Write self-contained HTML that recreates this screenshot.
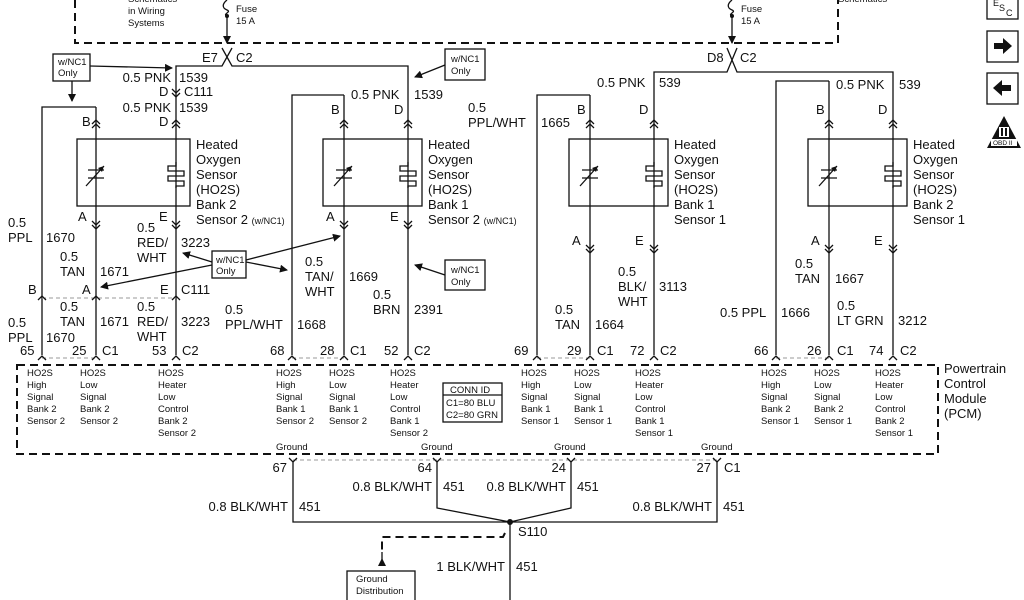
<!DOCTYPE html>
<html><head><meta charset="utf-8"><style>
html,body{margin:0;padding:0;background:#fff;}
svg{display:block;}
text{font-family:"Liberation Sans",Arial,sans-serif;fill:#111;}
.l{font-size:13px;}
.s{font-size:9.5px;}
.w{stroke:#111;stroke-width:1.3;fill:none;}
.d{stroke:#111;stroke-width:2;fill:none;stroke-dasharray:8,5;}
.g{stroke:#999;stroke-width:1;fill:none;stroke-dasharray:4,3;}
</style></head><body>
<svg width="1024" height="600" viewBox="0 0 1024 600" xmlns="http://www.w3.org/2000/svg">
<defs>
<g id="up"><path class="w" d="M-4,4 L0,0 L4,4 M-4,8 L0,4 L4,8"/></g>
<g id="dn"><path class="w" d="M-4,-4 L0,0 L4,-4 M-4,-8 L0,-4 L4,-8"/></g>
<g id="pin"><path class="w" d="M-4,4 L0,0 L4,4"/></g>
<g id="res"><path class="w" d="M-8,-4 H8 M-8,4 H8 M-10,12 L8,-8"/><path d="M8,-8 L2,-6 L6,-2 Z" fill="#111"/></g>
<g id="heat"><path class="w" d="M0,-12 V-8 H-8 V-3 H8 V2 H-8 V7 H8 V12 H0 V14" /></g>
<marker id="ah" markerWidth="8" markerHeight="8" refX="7" refY="4" orient="auto" markerUnits="userSpaceOnUse"><path d="M0,0 L8,4 L0,8 Z" fill="#111"/></marker>
</defs>

<!-- top dashed box -->
<path class="d" d="M75,0 V43 H838 V0"/>
<text class="s" x="128" y="2" font-size="10">Schematics</text>
<text class="s" x="128" y="14">in Wiring</text>
<text class="s" x="128" y="26">Systems</text>
<text class="s" x="838" y="2">Schematics</text>
<!-- fuses -->
<path class="w" d="M227,0 C222,4 222,8 227,10 C232,12 222,14 227,16 V43" marker-end="url(#ah)"/>
<circle cx="227" cy="16" r="2" fill="#111"/>
<text class="s" x="236" y="12">Fuse</text><text class="s" x="236" y="24">15 A</text>
<path class="w" d="M732,0 C727,4 727,8 732,10 C737,12 727,14 732,16 V43" marker-end="url(#ah)"/>
<circle cx="732" cy="16" r="2" fill="#111"/>
<text class="s" x="741" y="12">Fuse</text><text class="s" x="741" y="24">15 A</text>

<!-- E7 X C2 -->
<path class="w" d="M222,48 L232,66 H408 V295 M232,48 L222,66 H176 V355"/>
<text class="l" x="202" y="62">E7</text><text class="l" x="236" y="62">C2</text>
<!-- D8 X C2 -->
<path class="w" d="M727,48 L737,72 H893 V355 M737,48 L727,72 H654 V355"/>
<text class="l" x="707" y="62">D8</text><text class="l" x="740" y="62">C2</text>

<!-- Sensor 1: Bank2 Sensor2 -->
<rect x="77" y="139" width="113" height="67" class="w" fill="none"/>
<path class="w" d="M96,107 H42 V355 M96,107 V355"/>
<use href="#up" x="96" y="120"/><use href="#up" x="176" y="120"/>
<use href="#dn" x="96" y="229"/><use href="#dn" x="176" y="229"/>
<use href="#dn" x="176" y="97"/>
<use href="#res" x="96" y="174"/><use href="#heat" x="176" y="174"/>
<text class="l" x="196" y="149">Heated</text><text class="l" x="196" y="164">Oxygen</text><text class="l" x="196" y="179">Sensor</text><text class="l" x="196" y="194">(HO2S)</text><text class="l" x="196" y="209">Bank 2</text><text class="l" x="196" y="224">Sensor 2 <tspan font-size="9">(w/NC1)</tspan></text>
<text class="l" x="171" y="82" text-anchor="end">0.5 PNK</text><text class="l" x="179" y="82">1539</text>
<text class="l" x="159" y="96">D</text><text class="l" x="184" y="96">C111</text>
<text class="l" x="171" y="112" text-anchor="end">0.5 PNK</text><text class="l" x="179" y="112">1539</text>
<text class="l" x="159" y="126">D</text><text class="l" x="82" y="126">B</text>
<text class="l" x="78" y="221">A</text><text class="l" x="159" y="221">E</text>
<text class="l" x="8" y="227">0.5</text><text class="l" x="8" y="242">PPL</text><text class="l" x="46" y="242">1670</text>
<text class="l" x="60" y="261">0.5</text><text class="l" x="60" y="276">TAN</text><text class="l" x="100" y="276">1671</text>
<text class="l" x="137" y="232">0.5</text><text class="l" x="137" y="247">RED/</text><text class="l" x="137" y="262">WHT</text><text class="l" x="181" y="247">3223</text>
<!-- C111 -->
<path class="g" d="M42,298 H176"/>
<use href="#pin" x="42" y="296"/><use href="#pin" x="96" y="296"/><use href="#pin" x="176" y="296"/>
<text class="l" x="28" y="294">B</text><text class="l" x="82" y="294">A</text><text class="l" x="160" y="294">E</text><text class="l" x="181" y="294">C111</text>
<text class="l" x="60" y="311">0.5</text><text class="l" x="60" y="326">TAN</text><text class="l" x="100" y="326">1671</text>
<text class="l" x="8" y="327">0.5</text><text class="l" x="8" y="342">PPL</text><text class="l" x="46" y="342">1670</text>
<text class="l" x="137" y="311">0.5</text><text class="l" x="137" y="326">RED/</text><text class="l" x="137" y="341">WHT</text><text class="l" x="181" y="326">3223</text>

<!-- Sensor 2: Bank1 Sensor2 -->
<rect x="323" y="139" width="99" height="67" class="w" fill="none"/>
<path class="w" d="M344,95 H292 V355 M344,95 V355 M408,295 V355"/>
<use href="#up" x="344" y="120"/><use href="#up" x="408" y="120"/>
<use href="#dn" x="344" y="229"/><use href="#dn" x="408" y="229"/>
<use href="#res" x="344" y="174"/><use href="#heat" x="408" y="174"/>
<text class="l" x="428" y="149">Heated</text><text class="l" x="428" y="164">Oxygen</text><text class="l" x="428" y="179">Sensor</text><text class="l" x="428" y="194">(HO2S)</text><text class="l" x="428" y="209">Bank 1</text><text class="l" x="428" y="224">Sensor 2 <tspan font-size="9">(w/NC1)</tspan></text>
<text class="l" x="351" y="99">0.5 PNK</text><text class="l" x="414" y="99">1539</text>
<text class="l" x="331" y="114">B</text><text class="l" x="394" y="114">D</text>
<text class="l" x="326" y="221">A</text><text class="l" x="390" y="221">E</text>
<text class="l" x="305" y="266">0.5</text><text class="l" x="305" y="281">TAN/</text><text class="l" x="305" y="296">WHT</text><text class="l" x="349" y="281">1669</text>
<text class="l" x="373" y="299">0.5</text><text class="l" x="373" y="314">BRN</text><text class="l" x="414" y="314">2391</text>
<text class="l" x="225" y="314">0.5</text><text class="l" x="225" y="329">PPL/WHT</text><text class="l" x="297" y="329">1668</text>

<!-- Sensor 3: Bank1 Sensor1 -->
<rect x="569" y="139" width="99" height="67" class="w" fill="none"/>
<path class="w" d="M590,95 H537 V355 M590,95 V355"/>
<use href="#up" x="590" y="120"/><use href="#up" x="654" y="120"/>
<use href="#dn" x="590" y="253"/><use href="#dn" x="654" y="253"/>
<use href="#res" x="590" y="174"/><use href="#heat" x="654" y="174"/>
<text class="l" x="674" y="149">Heated</text><text class="l" x="674" y="164">Oxygen</text><text class="l" x="674" y="179">Sensor</text><text class="l" x="674" y="194">(HO2S)</text><text class="l" x="674" y="209">Bank 1</text><text class="l" x="674" y="224">Sensor 1</text>
<text class="l" x="597" y="87">0.5 PNK</text><text class="l" x="659" y="87">539</text>
<text class="l" x="468" y="112">0.5</text><text class="l" x="468" y="127">PPL/WHT</text><text class="l" x="541" y="127">1665</text>
<text class="l" x="577" y="114">B</text><text class="l" x="639" y="114">D</text>
<text class="l" x="572" y="245">A</text><text class="l" x="635" y="245">E</text>
<text class="l" x="618" y="276">0.5</text><text class="l" x="618" y="291">BLK/</text><text class="l" x="618" y="306">WHT</text><text class="l" x="659" y="291">3113</text>
<text class="l" x="555" y="314">0.5</text><text class="l" x="555" y="329">TAN</text><text class="l" x="595" y="329">1664</text>

<!-- Sensor 4: Bank2 Sensor1 -->
<rect x="808" y="139" width="99" height="67" class="w" fill="none"/>
<path class="w" d="M829,81 H776 V355 M829,81 V355"/>
<use href="#up" x="829" y="120"/><use href="#up" x="893" y="120"/>
<use href="#dn" x="829" y="253"/><use href="#dn" x="893" y="253"/>
<use href="#res" x="829" y="174"/><use href="#heat" x="893" y="174"/>
<text class="l" x="913" y="149">Heated</text><text class="l" x="913" y="164">Oxygen</text><text class="l" x="913" y="179">Sensor</text><text class="l" x="913" y="194">(HO2S)</text><text class="l" x="913" y="209">Bank 2</text><text class="l" x="913" y="224">Sensor 1</text>
<text class="l" x="836" y="89">0.5 PNK</text><text class="l" x="899" y="89">539</text>
<text class="l" x="816" y="114">B</text><text class="l" x="878" y="114">D</text>
<text class="l" x="811" y="245">A</text><text class="l" x="874" y="245">E</text>
<text class="l" x="795" y="268">0.5</text><text class="l" x="795" y="283">TAN</text><text class="l" x="835" y="283">1667</text>
<text class="l" x="837" y="310">0.5</text><text class="l" x="837" y="325">LT GRN</text><text class="l" x="898" y="325">3212</text>
<text class="l" x="720" y="317">0.5 PPL</text><text class="l" x="781" y="317">1666</text>

<!-- w/NC1 boxes -->
<g class="s" font-size="9.5">
<rect x="53" y="54" width="37" height="27" class="w" fill="#fff"/><text class="s" x="58" y="65">w/NC1</text><text class="s" x="58" y="76">Only</text>
<rect x="445" y="49" width="40" height="31" class="w" fill="#fff"/><text class="s" x="451" y="62">w/NC1</text><text class="s" x="451" y="74">Only</text>
<rect x="212" y="251" width="34" height="27" class="w" fill="#fff"/><text class="s" x="216" y="263">w/NC1</text><text class="s" x="216" y="274">Only</text>
<rect x="445" y="260" width="40" height="30" class="w" fill="#fff"/><text class="s" x="451" y="273">w/NC1</text><text class="s" x="451" y="285">Only</text>
</g>
<path class="w" d="M90,66 L172,68" marker-end="url(#ah)"/>
<path class="w" d="M72,81 V101" marker-end="url(#ah)"/>
<path class="w" d="M445,65 L415,77" marker-end="url(#ah)"/>
<path class="w" d="M212,262 L183,253" marker-end="url(#ah)"/>
<path class="w" d="M212,265 L101,287" marker-end="url(#ah)"/>
<path class="w" d="M246,260 L340,236" marker-end="url(#ah)"/>
<path class="w" d="M246,262 L287,270" marker-end="url(#ah)"/>
<path class="w" d="M445,275 L415,265" marker-end="url(#ah)"/>

<!-- pin row -->
<path class="g" d="M42,358 H96 M292,358 H344 M537,358 H590 M776,358 H829"/>
<g>
<use href="#pin" x="42" y="356"/><use href="#pin" x="96" y="356"/><use href="#pin" x="176" y="356"/>
<use href="#pin" x="292" y="356"/><use href="#pin" x="344" y="356"/><use href="#pin" x="408" y="356"/>
<use href="#pin" x="537" y="356"/><use href="#pin" x="590" y="356"/><use href="#pin" x="654" y="356"/>
<use href="#pin" x="776" y="356"/><use href="#pin" x="829" y="356"/><use href="#pin" x="893" y="356"/>
</g>
<text class="l" x="20" y="355">65</text><text class="l" x="72" y="355">25</text><text class="l" x="102" y="355">C1</text><text class="l" x="152" y="355">53</text><text class="l" x="182" y="355">C2</text>
<text class="l" x="270" y="355">68</text><text class="l" x="320" y="355">28</text><text class="l" x="350" y="355">C1</text><text class="l" x="384" y="355">52</text><text class="l" x="414" y="355">C2</text>
<text class="l" x="514" y="355">69</text><text class="l" x="567" y="355">29</text><text class="l" x="597" y="355">C1</text><text class="l" x="630" y="355">72</text><text class="l" x="660" y="355">C2</text>
<text class="l" x="754" y="355">66</text><text class="l" x="807" y="355">26</text><text class="l" x="837" y="355">C1</text><text class="l" x="869" y="355">74</text><text class="l" x="900" y="355">C2</text>

<!-- PCM box -->
<path class="d" d="M17,365 H938 V454 H17 Z"/>
<g class="s">
<text class="s" x="27" y="376">HO2S<tspan x="27" dy="12">High</tspan><tspan x="27" dy="12">Signal</tspan><tspan x="27" dy="12">Bank 2</tspan><tspan x="27" dy="12">Sensor 2</tspan></text>
<text class="s" x="80" y="376">HO2S<tspan x="80" dy="12">Low</tspan><tspan x="80" dy="12">Signal</tspan><tspan x="80" dy="12">Bank 2</tspan><tspan x="80" dy="12">Sensor 2</tspan></text>
<text class="s" x="158" y="376">HO2S<tspan x="158" dy="12">Heater</tspan><tspan x="158" dy="12">Low</tspan><tspan x="158" dy="12">Control</tspan><tspan x="158" dy="12">Bank 2</tspan><tspan x="158" dy="12">Sensor 2</tspan></text>
<text class="s" x="276" y="376">HO2S<tspan x="276" dy="12">High</tspan><tspan x="276" dy="12">Signal</tspan><tspan x="276" dy="12">Bank 1</tspan><tspan x="276" dy="12">Sensor 2</tspan></text>
<text class="s" x="329" y="376">HO2S<tspan x="329" dy="12">Low</tspan><tspan x="329" dy="12">Signal</tspan><tspan x="329" dy="12">Bank 1</tspan><tspan x="329" dy="12">Sensor 2</tspan></text>
<text class="s" x="390" y="376">HO2S<tspan x="390" dy="12">Heater</tspan><tspan x="390" dy="12">Low</tspan><tspan x="390" dy="12">Control</tspan><tspan x="390" dy="12">Bank 1</tspan><tspan x="390" dy="12">Sensor 2</tspan></text>
<text class="s" x="521" y="376">HO2S<tspan x="521" dy="12">High</tspan><tspan x="521" dy="12">Signal</tspan><tspan x="521" dy="12">Bank 1</tspan><tspan x="521" dy="12">Sensor 1</tspan></text>
<text class="s" x="574" y="376">HO2S<tspan x="574" dy="12">Low</tspan><tspan x="574" dy="12">Signal</tspan><tspan x="574" dy="12">Bank 1</tspan><tspan x="574" dy="12">Sensor 1</tspan></text>
<text class="s" x="635" y="376">HO2S<tspan x="635" dy="12">Heater</tspan><tspan x="635" dy="12">Low</tspan><tspan x="635" dy="12">Control</tspan><tspan x="635" dy="12">Bank 1</tspan><tspan x="635" dy="12">Sensor 1</tspan></text>
<text class="s" x="761" y="376">HO2S<tspan x="761" dy="12">High</tspan><tspan x="761" dy="12">Signal</tspan><tspan x="761" dy="12">Bank 2</tspan><tspan x="761" dy="12">Sensor 1</tspan></text>
<text class="s" x="814" y="376">HO2S<tspan x="814" dy="12">Low</tspan><tspan x="814" dy="12">Signal</tspan><tspan x="814" dy="12">Bank 2</tspan><tspan x="814" dy="12">Sensor 1</tspan></text>
<text class="s" x="875" y="376">HO2S<tspan x="875" dy="12">Heater</tspan><tspan x="875" dy="12">Low</tspan><tspan x="875" dy="12">Control</tspan><tspan x="875" dy="12">Bank 2</tspan><tspan x="875" dy="12">Sensor 1</tspan></text>
<text class="s" x="276" y="450">Ground</text><text class="s" x="421" y="450">Ground</text><text class="s" x="554" y="450">Ground</text><text class="s" x="701" y="450">Ground</text>
</g>
<rect x="443" y="383" width="59" height="39" class="w" fill="none" stroke-width="1.6"/>
<path class="w" d="M443,395 H502"/>
<text class="s" x="450" y="393">CONN ID</text>
<text class="s" x="446" y="406">C1=80 BLU</text>
<text class="s" x="446" y="418">C2=80 GRN</text>
<text class="l" x="944" y="373">Powertrain</text><text class="l" x="944" y="388">Control</text><text class="l" x="944" y="403">Module</text><text class="l" x="944" y="418">(PCM)</text>

<!-- grounds -->
<path class="g" d="M293,460 H717"/>
<path class="w" d="M289,458 L293,462 L297,458 M433,458 L437,462 L441,458 M567,458 L571,462 L575,458 M713,458 L717,462 L721,458"/>
<path class="w" d="M293,462 V522 H717 V462 M437,462 V508 L510,522 L571,508 V462 M510,522 V600"/>
<circle cx="510" cy="522" r="3" fill="#111"/>
<text class="l" x="287" y="472" text-anchor="end">67</text><text class="l" x="432" y="472" text-anchor="end">64</text><text class="l" x="566" y="472" text-anchor="end">24</text><text class="l" x="711" y="472" text-anchor="end">27</text><text class="l" x="724" y="472">C1</text>
<text class="l" x="288" y="511" text-anchor="end">0.8 BLK/WHT</text><text class="l" x="299" y="511">451</text>
<text class="l" x="432" y="491" text-anchor="end">0.8 BLK/WHT</text><text class="l" x="443" y="491">451</text>
<text class="l" x="566" y="491" text-anchor="end">0.8 BLK/WHT</text><text class="l" x="577" y="491">451</text>
<text class="l" x="712" y="511" text-anchor="end">0.8 BLK/WHT</text><text class="l" x="723" y="511">451</text>
<text class="l" x="518" y="536">S110</text>
<text class="l" x="505" y="571" text-anchor="end">1 BLK/WHT</text><text class="l" x="516" y="571">451</text>
<path class="d" d="M505,533 L503,537 H382 V552" stroke-width="1.6"/>
<path d="M378,566 L382,558 L386,566 Z" fill="#111"/>
<path class="w" d="M382,552 V560"/>
<rect x="347" y="571" width="68" height="35" class="w" fill="#fff"/>
<text class="s" x="356" y="582">Ground</text><text class="s" x="356" y="594">Distribution</text>

<!-- right icons -->
<rect x="987" y="-4" width="31" height="23" class="w" fill="none" stroke-width="1.6"/>
<text x="993" y="6" font-size="9">E</text><text x="999" y="11" font-size="9">S</text><text x="1006" y="16" font-size="9">C</text>
<rect x="987" y="31" width="31" height="31" class="w" fill="none" stroke-width="1.6"/>
<path d="M994,43 H1003 V38 L1012,46 L1003,54 V49 H994 Z" fill="#111"/>
<rect x="987" y="73" width="31" height="31" class="w" fill="none" stroke-width="1.6"/>
<path d="M1011,85 H1002 V80 L993,88 L1002,96 V91 H1011 Z" fill="#111"/>
<path d="M1004,116 L1021,148 H987 Z" fill="#111"/>
<rect x="999" y="127" width="10" height="10" fill="#fff"/><rect x="1001" y="128" width="2" height="8" fill="#111"/><rect x="1005" y="128" width="2" height="8" fill="#111"/>
<rect x="991" y="139" width="26" height="7" fill="#fff"/>
<text x="993" y="145" font-size="6.5">OBD II</text>
</svg>
</body></html>
